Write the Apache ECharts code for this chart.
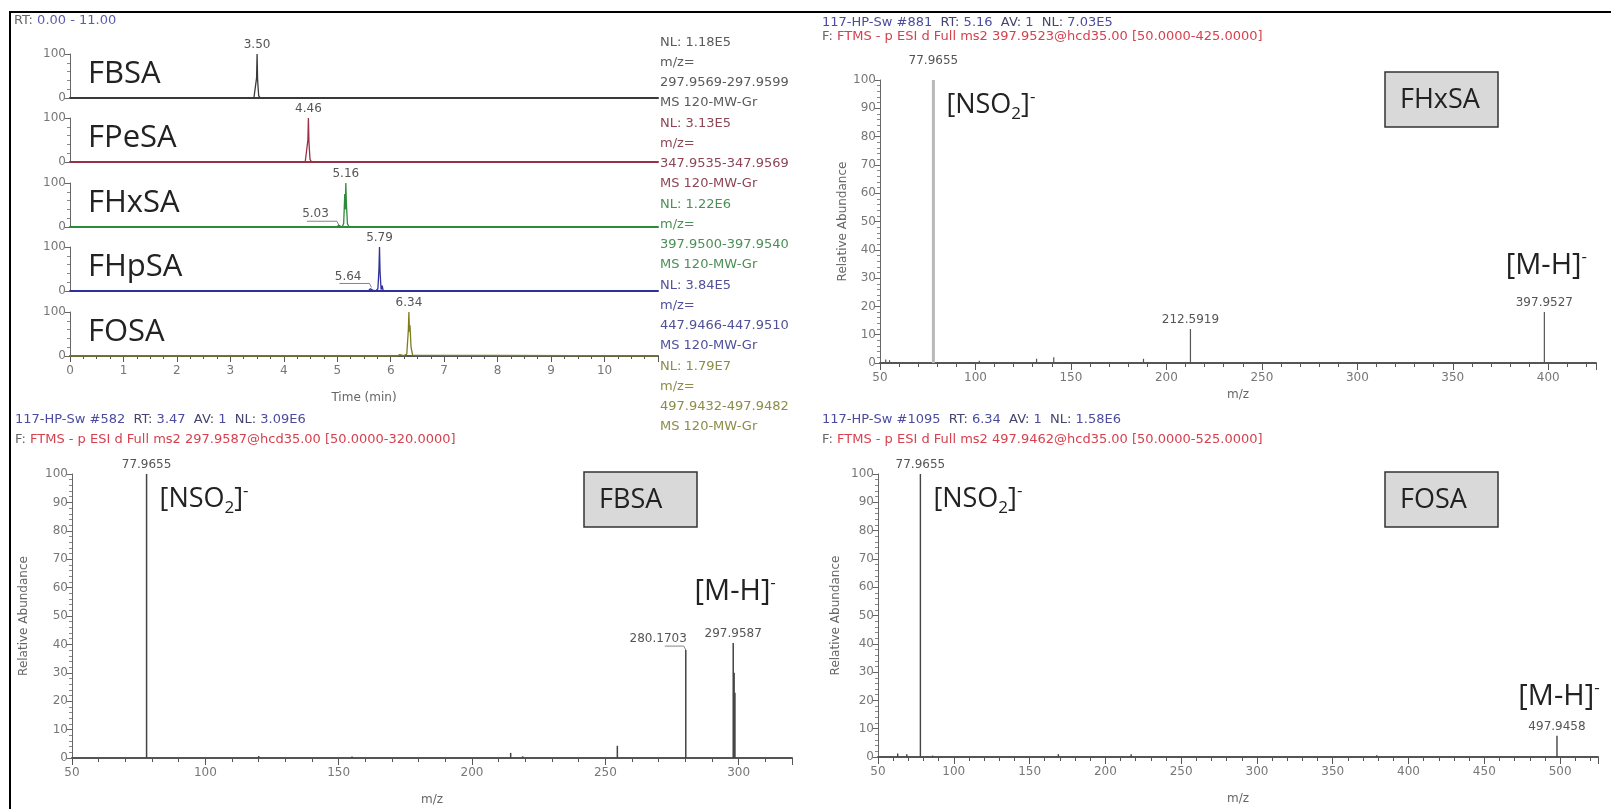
<!DOCTYPE html>
<html>
<head>
<meta charset="utf-8">
<title>FASA chromatograms and MS2 spectra</title>
<script src="https://cdn.jsdelivr.net/npm/echarts@6.0.0/dist/echarts.min.js"></script>
<style>
  html, body { margin: 0; padding: 0; background: #fff; }
  #main { width: 1611px; height: 809px; }
</style>
</head>
<body>
<div id="main"></div>
<script>
// ---- extracted ion chromatograms (RT min, relative abundance %) ----
var chromNames = ['FBSA', 'FPeSA', 'FHxSA', 'FHpSA', 'FOSA'];
var chromNL = ['NL: 1.18E5', 'NL: 3.13E5', 'NL: 1.22E6', 'NL: 3.84E5', 'NL: 1.79E7'];
var chromRange = ['297.9569-297.9599', '347.9535-347.9569', '397.9500-397.9540', '447.9466-447.9510', '497.9432-497.9482'];
var chromScan = 'MS 120-MW-Gr';

var fbsaTrace = [[0, 0], [3.44, 0], [3.47, 4], [3.49, 45], [3.50, 100], [3.51, 40], [3.53, 5], [3.56, 0], [11, 0]];
var fpesaTrace = [[0, 0], [4.40, 0], [4.43, 4], [4.45, 50], [4.46, 100], [4.47, 45], [4.49, 6], [4.52, 0], [11, 0]];
var fhxsaTrace = [[0, 0], [4.98, 0], [5.01, 2], [5.03, 4], [5.05, 1], [5.09, 0], [5.12, 8], [5.14, 75], [5.15, 40],
  [5.16, 100], [5.17, 55], [5.19, 8], [5.22, 0], [11, 0]];
var fhpsaTrace = [[0, 0], [5.58, 0], [5.62, 5], [5.64, 8], [5.66, 2], [5.72, 0], [5.76, 5], [5.78, 50], [5.79, 100],
  [5.80, 45], [5.82, 3], [5.84, 12], [5.86, 0], [11, 0]];
var fosaTrace = [[0, 0], [6.12, 0], [6.17, 3], [6.20, 4], [6.24, 1], [6.30, 4], [6.33, 60], [6.34, 100], [6.35, 55],
  [6.36, 70], [6.38, 20], [6.41, 2], [6.44, 0], [11, 0]];
var chromTraces = [fbsaTrace, fpesaTrace, fhxsaTrace, fhpsaTrace, fosaTrace];

var chromLabels = [
  [[3.50, 100, '3.50']],
  [[4.46, 100, '4.46']],
  [[5.16, 100, '5.16'], [5.03, 4, '5.03']],
  [[5.79, 100, '5.79'], [5.64, 8, '5.64']],
  [[6.34, 100, '6.34']]
];

// ---- MS2 spectra (m/z, relative abundance %) ----
var specScan = ['117-HP-Sw #881', '117-HP-Sw #582', '117-HP-Sw #1095'];
var specRT = ['5.16', '3.47', '6.34'];
var specNL = ['7.03E5', '3.09E6', '1.58E6'];
var specFilter = [
  'FTMS - p ESI d Full ms2 397.9523@hcd35.00 [50.0000-425.0000]',
  'FTMS - p ESI d Full ms2 297.9587@hcd35.00 [50.0000-320.0000]',
  'FTMS - p ESI d Full ms2 497.9462@hcd35.00 [50.0000-525.0000]'
];
var specNames = ['FHxSA', 'FBSA', 'FOSA'];
var specMax = [425, 320, 525];

var fhxsaBase = [[77.9655, 100]];
var fhxsaPeaks = [[53, 1.2], [55, 1], [102, 0.8], [132, 1.5], [141, 2], [188, 1.5], [212.5919, 12], [397.9527, 18]];
var fhxsaLabels = [[77.9655, 100, '77.9655'], [212.5919, 12, '212.5919'], [397.9527, 18, '397.9527']];

var fbsaPeaks = [[77.9655, 100], [120, 0.7], [155, 0.5], [214.5, 1.8], [219, 0.6], [254.5, 4.3],
  [280.1703, 38], [297.9587, 40.5], [298.3, 30], [298.6, 23]];
var fbsaLabels = [[77.9655, 100, '77.9655'], [280.1703, 38, '280.1703'], [297.9587, 40.5, '297.9587']];

var fosaPeaks = [[63, 1.2], [69, 1], [77.9655, 100], [86, 0.5], [169, 1], [217, 1], [379, 0.6], [497.9458, 7.5]];
var fosaLabels = [[77.9655, 100, '77.9655'], [497.9458, 7.5, '497.9458']];

var sideLabels = ['5.03', '5.64', '280.1703'];

// ---- layout / styles ----
var chromTops = [54, 118, 183, 247, 312];
var chromColors = ['#3a3a3a', '#9a2f45', '#2f8a3a', '#30309a', '#7d7d1e'];
var chromTextColors = ['#5a5a5a', '#8e4556', '#4a8f55', '#50509a', '#8c8c48'];
var smallFont = '13px "DejaVu Sans"';
var bigFamily = '"Open Sans"';
var axisGray = '#555';

var dom = document.getElementById('main');
var chart = echarts.init(dom, null, { renderer: 'canvas' });

var grids = [], xAxes = [], yAxes = [], series = [];

chromTops.forEach(function (t, i) {
  var last = i === 4;
  grids.push({ left: 70, top: t, width: 588, height: 44, outerBoundsMode: 'none' });
  xAxes.push({
    type: 'value', gridIndex: i, min: 0, max: 11, interval: 1,
    name: last ? 'Time (min)' : '', nameLocation: 'middle', nameGap: 36,
    nameTextStyle: { color: '#666', fontSize: 12, fontFamily: 'DejaVu Sans' },
    axisLine: { show: true, onZero: false, lineStyle: { color: last ? axisGray : chromColors[i], width: 2 } },
    axisTick: { show: last, length: 6, lineStyle: { color: axisGray } },
    minorTick: { show: last, splitNumber: 4, length: 3, lineStyle: { color: axisGray } },
    axisLabel: { show: last, showMaxLabel: false, color: '#777', fontSize: 12, fontFamily: 'DejaVu Sans', margin: 9 },
    splitLine: { show: false }, minorSplitLine: { show: false }
  });
  yAxes.push({
    type: 'value', gridIndex: i, min: 0, max: 100, interval: 100,
    axisLine: { show: true, lineStyle: { color: '#666', width: 1 } },
    axisTick: { show: true, length: 5, lineStyle: { color: '#666' } },
    minorTick: { show: true, splitNumber: 5, length: 3, lineStyle: { color: '#888' } },
    axisLabel: { color: '#777', fontSize: 12, fontFamily: 'DejaVu Sans', margin: 4 },
    splitLine: { show: false }, minorSplitLine: { show: false }
  });
  series.push({
    type: 'line', xAxisIndex: i, yAxisIndex: i, data: chromTraces[i],
    showSymbol: false, z: 3,
    lineStyle: { color: chromColors[i], width: 1.3 }
  });
  series.push(labelSeries(i, chromLabels[i], 0, -10));
});

var specGrids = [
  { left: 880, top: 80, width: 716, height: 283 },
  { left: 72, top: 474, width: 720, height: 284 },
  { left: 878, top: 474, width: 720, height: 283 }
];
var specNameGap = [26, 36, 36];
var specYNameGap = [31, 42, 36];

specGrids.forEach(function (g, k) {
  var gi = 5 + k;
  g.outerBoundsMode = 'none';
  grids.push(g);
  xAxes.push({
    type: 'value', gridIndex: gi, min: 50, max: specMax[k], interval: 50,
    name: 'm/z', nameLocation: 'middle', nameGap: specNameGap[k],
    nameTextStyle: { color: '#666', fontSize: 12, fontFamily: 'DejaVu Sans' },
    axisLine: { show: true, onZero: false, lineStyle: { color: axisGray, width: 2 } },
    axisTick: { show: true, length: 7, lineStyle: { color: axisGray } },
    minorTick: { show: true, splitNumber: 5, length: 4, lineStyle: { color: axisGray } },
    axisLabel: { showMaxLabel: false, color: '#777', fontSize: 12, fontFamily: 'DejaVu Sans', margin: 9 },
    splitLine: { show: false }, minorSplitLine: { show: false }
  });
  yAxes.push({
    type: 'value', gridIndex: gi, min: 0, max: 100, interval: 10,
    name: 'Relative Abundance', nameLocation: 'middle', nameGap: specYNameGap[k],
    nameTextStyle: { color: '#666', fontSize: 12, fontFamily: 'DejaVu Sans' },
    axisLine: { show: true, lineStyle: { color: '#666', width: 1 } },
    axisTick: { show: true, length: 5, lineStyle: { color: '#666' } },
    minorTick: { show: true, splitNumber: 5, length: 3, lineStyle: { color: '#888' } },
    axisLabel: { color: '#777', fontSize: 12, fontFamily: 'DejaVu Sans', margin: 4 },
    splitLine: { show: false }, minorSplitLine: { show: false }
  });
});

series.push(stickSeries(5, fhxsaBase, '#b8b8b8', 3));
series.push(stickSeries(5, fhxsaPeaks, '#555', 1.2));
series.push(labelSeries(5, fhxsaLabels, 10, 1));
series.push(stickSeries(6, fbsaPeaks, '#444', 1.5));
series.push(labelSeries(6, fbsaLabels, 0, 1));
series.push(stickSeries(7, fosaPeaks, '#444', 1.4));
series.push(labelSeries(7, fosaLabels, 0, 1));

function stickSeries(grid, peaks, color, width) {
  return {
    type: 'custom', xAxisIndex: grid, yAxisIndex: grid, z: 3,
    data: peaks, encode: { x: 0, y: 1 },
    renderItem: function (params, api) {
      var top = api.coord([api.value(0), api.value(1)]);
      var base = api.coord([api.value(0), 0]);
      return {
        type: 'line',
        shape: { x1: top[0], y1: base[1], x2: top[0], y2: top[1] },
        style: { stroke: color, lineWidth: width }
      };
    }
  };
}

// lift: extra gap above the top label; side: x offset of a side label's right edge
function labelSeries(grid, labels, lift, side) {
  return {
    type: 'custom', xAxisIndex: grid, yAxisIndex: grid, z: 5,
    data: labels.map(function (d) { return [d[0], d[1]]; }),
    encode: { x: 0, y: 1 },
    renderItem: function (params, api) {
      var d = labels[params.dataIndex];
      var p = api.coord([d[0], d[1]]);
      if (sideLabels.indexOf(d[2]) >= 0) {
        return {
          type: 'group',
          children: [
            { type: 'text', style: { text: d[2], x: p[0] + side, y: p[1] - 5, align: 'right', verticalAlign: 'bottom', font: '12px "DejaVu Sans"', fill: '#555' } },
            { type: 'polyline', shape: { points: [[p[0] + side - 22, p[1] - 4], [p[0] - 2, p[1] - 4], [p[0], p[1]]] },
              style: { stroke: '#666', lineWidth: 0.8, fill: 'none' } }
          ]
        };
      }
      var extra = d[1] >= 100 ? lift : 0;
      return {
        type: 'text',
        style: { text: d[2], x: p[0], y: p[1] - 3 - extra, align: 'center', verticalAlign: 'bottom', font: '12px "DejaVu Sans"', fill: '#555' }
      };
    }
  };
}

var option = {
  backgroundColor: '#fff',
  animation: false,
  grid: grids,
  xAxis: xAxes,
  yAxis: yAxes,
  series: series
};
chart.setOption(option);

function px(g, x, y) {
  return chart.convertToPixel({ gridIndex: g }, [x, y]);
}

var ionRich = {
  s: { fontSize: 17, fontFamily: 'Open Sans', lineHeight: 18, verticalAlign: 'bottom', fill: '#222' },
  p: { fontSize: 17, fontFamily: 'Open Sans', lineHeight: 18, verticalAlign: 'top', fill: '#222' }
};

var graphics = [];

// outer frame
graphics.push({ type: 'rect', z: 100, shape: { x: 10, y: 12, width: 1603, height: 800 }, style: { fill: 'none', stroke: '#000', lineWidth: 2 } });

// chromatogram header
graphics.push({ type: 'text', style: { x: 14, y: 21, verticalAlign: 'middle', font: smallFont, text: '{g|RT:} {b|0.00 - 11.00}',
  rich: { g: { fill: '#666', font: smallFont }, b: { fill: '#5c5cb0', font: smallFont } } } });

chromNames.forEach(function (n, i) {
  graphics.push({ type: 'text', style: { x: 88, y: chromTops[i] + 20, verticalAlign: 'middle', text: n,
    font: '31px ' + bigFamily, fill: '#222' } });
  var lines = [chromNL[i], 'm/z=', chromRange[i], chromScan];
  lines.forEach(function (s, j) {
    graphics.push({ type: 'text', style: { x: 660, y: 43 + i * 81 + j * 20, verticalAlign: 'middle', text: s,
      font: smallFont, fill: chromTextColors[i] } });
  });
});

// spectrum headers, boxes and ion annotations
var headPos = [[822, 23, 37], [15, 420, 440], [822, 420, 440]];
var boxPos = [[1385, 72], [584, 472], [1385, 472]];
var mhGap = [46, 51, 39];
var precursors = [fhxsaLabels[2], fbsaLabels[2], fosaLabels[1]];

specNames.forEach(function (n, k) {
  var gi = 5 + k;
  var h = headPos[k];
  graphics.push({ type: 'text', style: { x: h[0], y: h[1], verticalAlign: 'middle', font: smallFont,
    text: '{b|' + specScan[k] + '}  {g|RT:} {b|' + specRT[k] + '}  {g|AV:} {b|1}  {g|NL:} {b|' + specNL[k] + '}',
    rich: { g: { fill: '#44446e', font: smallFont }, b: { fill: '#4b4ba0', font: smallFont } } } });
  graphics.push({ type: 'text', style: { x: h[0], y: h[2], verticalAlign: 'middle', font: smallFont,
    text: '{g|F:} {r|' + specFilter[k] + '}',
    rich: { g: { fill: '#666', font: smallFont }, r: { fill: '#d8404e', font: smallFont } } } });

  var b = boxPos[k];
  graphics.push({ type: 'rect', shape: { x: b[0], y: b[1], width: 113, height: 55 },
    style: { fill: '#d9d9d9', stroke: '#333', lineWidth: 1.5 } });
  graphics.push({ type: 'text', style: { x: b[0] + 15, y: b[1] + 28, verticalAlign: 'middle', text: n,
    font: '27px ' + bigFamily, fill: '#222' } });

  var q = px(gi, 77.9655, 91);
  graphics.push({ type: 'text', style: { x: q[0] + 13, y: q[1], verticalAlign: 'middle', align: 'left',
    text: '[NSO{s|2}]{p|-}', font: '27px ' + bigFamily, fill: '#222', lineHeight: 34, rich: ionRich } });

  var m = px(gi, precursors[k][0], precursors[k][1]);
  graphics.push({ type: 'text', style: { x: m[0] + 2, y: m[1] - mhGap[k], verticalAlign: 'middle', align: 'center',
    text: '[M-H]{p|-}', font: '29px ' + bigFamily, fill: '#222', lineHeight: 34, rich: ionRich } });
});

chart.setOption({ graphic: { elements: graphics } });

window.addEventListener('resize', function () {
  chart.resize();
});
</script>
</body>
</html>
